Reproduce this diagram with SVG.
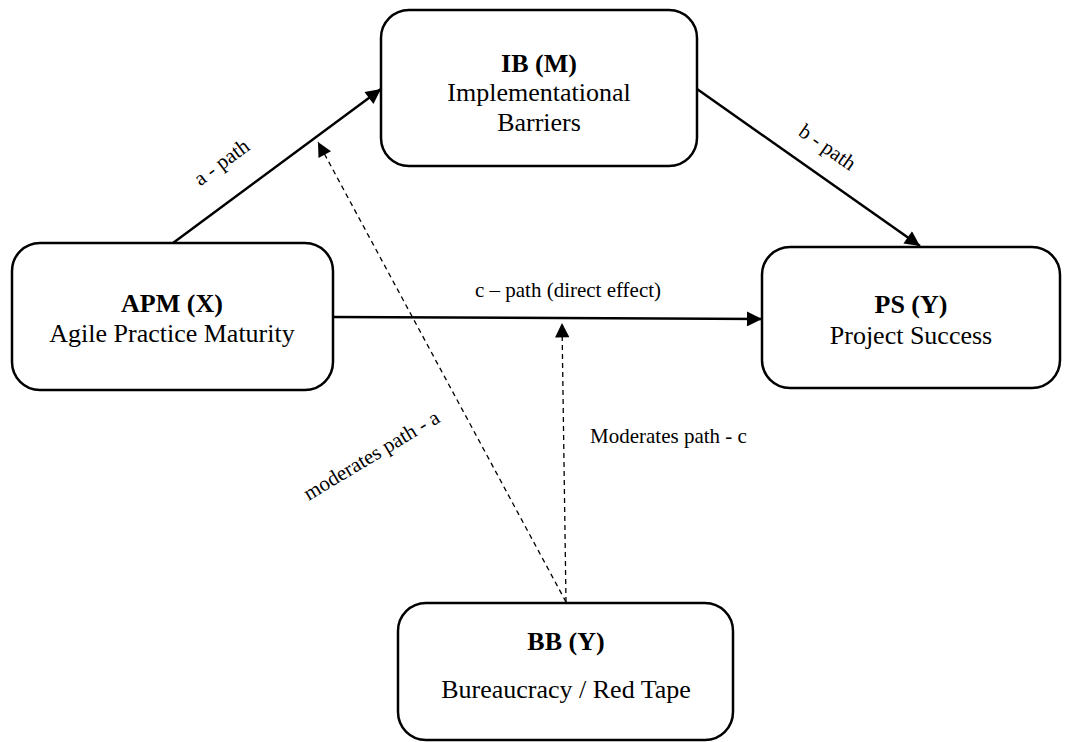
<svg xmlns="http://www.w3.org/2000/svg" width="1071" height="742" viewBox="0 0 1071 742">
<style>
.box{fill:#fff;stroke:#000;stroke-width:2.5}
.t{font-family:"Liberation Serif","Times New Roman",serif;font-size:26px;fill:#000;text-anchor:middle}
.b{font-weight:bold}
.lbl{font-family:"Liberation Serif","Times New Roman",serif;font-size:21px;fill:#000}
.solid{stroke:#000;stroke-width:2.5;fill:none}
.dash{stroke:#000;stroke-width:1.3;fill:none;stroke-dasharray:5,4}
</style>
<defs>
<marker id="ah" viewBox="0 0 10 10" refX="10" refY="5" markerWidth="7" markerHeight="6" markerUnits="strokeWidth" orient="auto">
<path d="M0,0 L10,5 L0,10 z" fill="#000"/>
</marker>
<marker id="ahd" viewBox="0 0 10 10" refX="10" refY="5" markerWidth="12" markerHeight="11" markerUnits="strokeWidth" orient="auto">
<path d="M0,0 L10,5 L0,10 z" fill="#000"/>
</marker>
</defs>
<rect width="1071" height="742" fill="#fff"/>
<g id="connectors">
<line class="solid" x1="173" y1="243" x2="381" y2="89" marker-end="url(#ah)"/>
<line class="solid" x1="697" y1="89" x2="920" y2="246" marker-end="url(#ah)"/>
<line class="solid" x1="333" y1="317" x2="762" y2="319" marker-end="url(#ah)"/>
<line class="dash" x1="566" y1="602" x2="318" y2="142" marker-end="url(#ahd)"/>
<line class="dash" x1="566" y1="602" x2="562" y2="323" marker-end="url(#ahd)"/>
<text class="lbl" text-anchor="middle" transform="translate(222,163) rotate(-36.5)" y="6">a - path</text>
<text class="lbl" text-anchor="middle" transform="translate(827,148) rotate(35)" y="6">b - path</text>
<text class="lbl" text-anchor="middle" x="568" y="297">c – path (direct effect)</text>
<text class="lbl" text-anchor="middle" transform="translate(372,456) rotate(-31)" y="6">moderates path - a</text>
<text class="lbl" x="590" y="443">Moderates path - c</text>
</g>
<g id="node-ib">
<rect class="box" x="381" y="10" width="316" height="156" rx="28"/>
<text class="t b" x="539" y="72">IB (M)</text>
<text class="t" x="539" y="101">Implementational</text>
<text class="t" x="539" y="131">Barriers</text>
</g>
<g id="node-apm">
<rect class="box" x="12" y="243" width="321" height="147" rx="28"/>
<text class="t b" x="172" y="312">APM (X)</text>
<text class="t" x="172" y="342">Agile Practice Maturity</text>
</g>
<g id="node-ps">
<rect class="box" x="762" y="247" width="298" height="141" rx="28"/>
<text class="t b" x="911" y="313">PS (Y)</text>
<text class="t" x="911" y="344">Project Success</text>
</g>
<g id="node-bb">
<rect class="box" x="398" y="603" width="335" height="137" rx="28"/>
<text class="t b" x="566" y="650">BB (Y)</text>
<text class="t" x="566" y="698">Bureaucracy / Red Tape</text>
</g>
</svg>
